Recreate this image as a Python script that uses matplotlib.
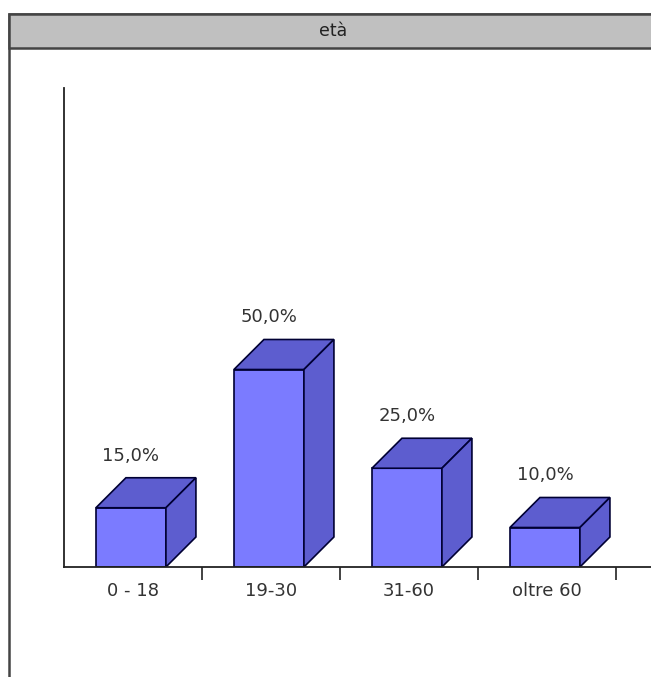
import matplotlib
matplotlib.use("Agg")
import matplotlib.pyplot as plt
from matplotlib.patches import Polygon, Rectangle

# dati
categories = ["0 - 18", "19-30", "31-60", "oltre 60"]
values = [15.0, 50.0, 25.0, 10.0]
title = "età"

W, H = 651, 677
fig = plt.figure(figsize=(W / 100, H / 100), dpi=100)
plt.rcParams['font.family'] = ['DejaVu Sans']

# cornice con intestazione grigia (sotto gli assi), il bordo inferiore esce dall'immagine
fig.add_artist(Rectangle((9 / W, -0.1), 1, (H - 14) / H + 0.1, transform=fig.transFigure,
                         facecolor='white', edgecolor='#444444', lw=1.8, zorder=-10))
fig.add_artist(Rectangle((9 / W, (H - 48) / H), 1, 34 / H, transform=fig.transFigure,
                         facecolor='#c0c0c0', edgecolor='#444444', lw=1.8, zorder=-9))
fig.text(333 / W, (H - 31) / H, title, ha='center', va='center', fontsize=12.5, color='#222222')

# area del grafico: 138 px per categoria, ~3.95 px per punto percentuale
ax = fig.add_axes([64 / W, (H - 567) / H, (W - 64) / W, 479 / H])
ax.set_xlim(-0.5, -0.5 + (W - 64) / 138)
ax.set_ylim(0, 479 / 3.95)
ax.patch.set_alpha(0)

dx = 30 / 138
dy = 30 / 3.95
hw = 35 / 138
front = '#7b7bff'
dark = '#5d5dcf'
edge = '#000033'

for i, v in enumerate(values):
    xc = i - 0.015
    x0, x1 = xc - hw, xc + hw
    ax.add_patch(Polygon([(x0, 0), (x1, 0), (x1, v), (x0, v)], closed=True,
                         facecolor=front, edgecolor=edge, lw=1.2))
    ax.add_patch(Polygon([(x0, v), (x1, v), (x1 + dx, v + dy), (x0 + dx, v + dy)], closed=True,
                         facecolor=dark, edgecolor=edge, lw=1.2))
    ax.add_patch(Polygon([(x1, 0), (x1 + dx, dy), (x1 + dx, v + dy), (x1, v)], closed=True,
                         facecolor=dark, edgecolor=edge, lw=1.2))
    ax.annotate(f"{v:.1f}%".replace('.', ','), (xc, v + dy), xytext=(0, 13),
                textcoords='offset pixels', ha='center', va='bottom',
                fontsize=13, color='#333333')

for s in ['top', 'right']:
    ax.spines[s].set_visible(False)
for s in ['left', 'bottom']:
    ax.spines[s].set_color('#222222')
    ax.spines[s].set_linewidth(1.3)

ax.set_yticks([])
ax.set_xticks(range(len(categories)))
ax.set_xticklabels(categories, fontsize=13, color='#333333')
ax.set_xticks([i + 0.5 for i in range(len(categories))], minor=True)
ax.tick_params(axis='x', which='major', length=0, pad=11)
ax.tick_params(axis='x', which='minor', length=9.5, width=1.2, color='#222222')

fig.savefig("out.png", dpi=100)
